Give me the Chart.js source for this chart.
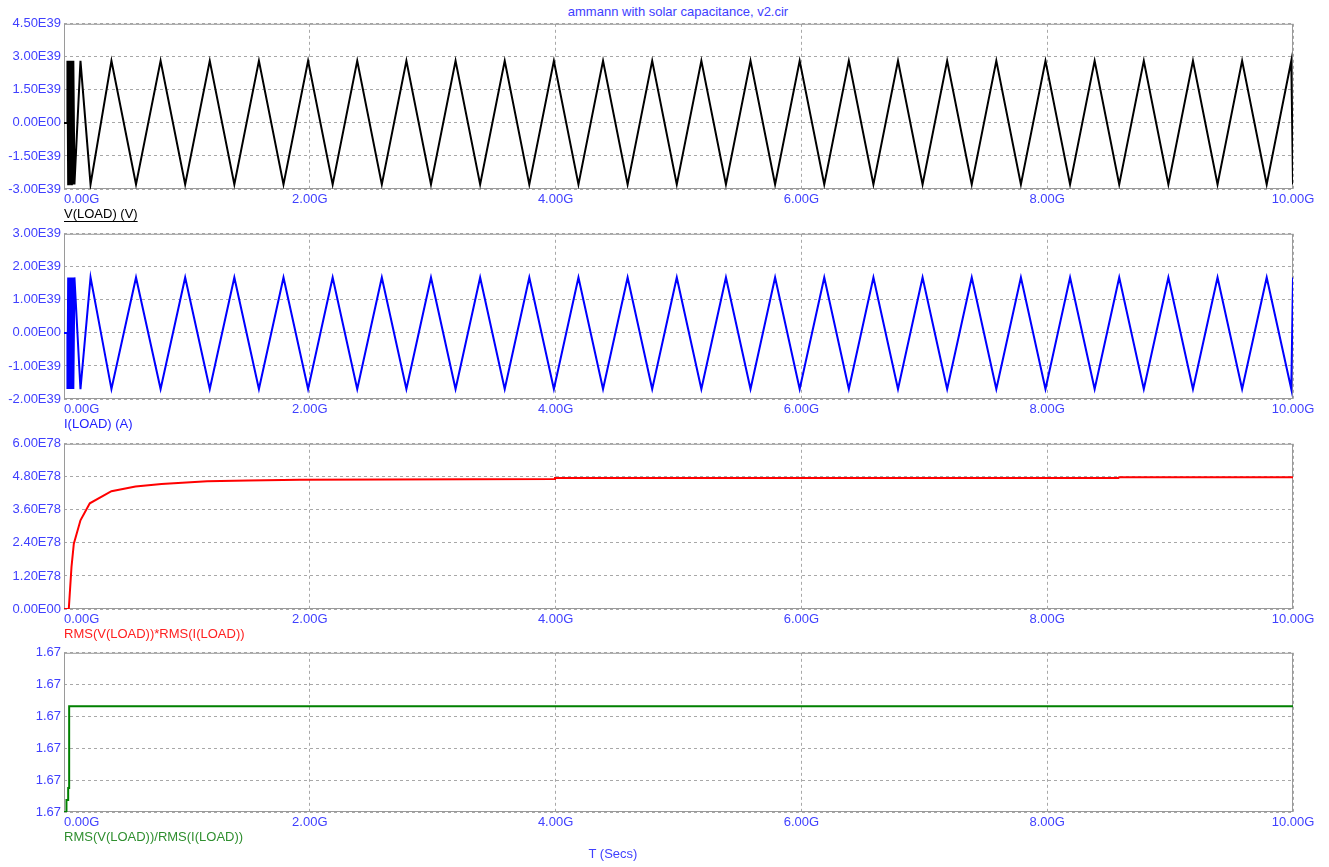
<!DOCTYPE html>
<html>
<head>
<meta charset="utf-8">
<script src="https://cdn.jsdelivr.net/npm/chart.js@4.4.1/dist/chart.umd.min.js"></script>
<style>
  html, body { margin: 0; padding: 0; background: #fff; }
  body { width: 1329px; height: 867px; position: relative; overflow: hidden;
         font-family: Arial, "Liberation Sans", sans-serif; }
  .panel { position: absolute; left: 0; }
  .txt { position: absolute; font-size: 13px; line-height: 16px; color: #4040ff;
         white-space: nowrap; text-align: center; }
</style>
</head>
<body>
<div class="txt" style="left:63px; width:1230px; top:4px;">ammann with solar capacitance, v2.cir</div>
<canvas class="panel" id="pV" width="1329" height="211" style="top:13px"></canvas>
<canvas class="panel" id="pI" width="1329" height="211" style="top:223px"></canvas>
<canvas class="panel" id="pP" width="1329" height="211" style="top:433px"></canvas>
<canvas class="panel" id="pR" width="1329" height="205" style="top:642px"></canvas>
<div class="txt" style="left:513px; width:200px; top:846px;">T (Secs)</div>

<script>
// x ticks in G (Secs)
const timeTicks = [0, 2, 4, 6, 8, 10];

// vertices of the V(LOAD) and I(LOAD) traces, time in G
const vertexTimes = [
  0, 0.028, 0.028, 0.034, 0.040, 0.046, 0.052, 0.058, 0.064, 0.070, 0.076, 0.085, 0.134, 0.216,
  0.386, 0.586, 0.786, 0.986, 1.186, 1.386, 1.586, 1.786, 1.986, 2.186, 2.386, 2.586, 2.786, 2.986,
  3.186, 3.386, 3.586, 3.786, 3.986, 4.186, 4.386, 4.586, 4.786, 4.986, 5.186, 5.386, 5.586, 5.786,
  5.986, 6.186, 6.386, 6.586, 6.786, 6.986, 7.186, 7.386, 7.586, 7.786, 7.986, 8.186, 8.386, 8.586,
  8.786, 8.986, 9.186, 9.386, 9.586, 9.786, 9.986, 10.0
];

// V(LOAD), units of E39
const voltage = [
  0, 0, 2.82, -2.79, 2.82, -2.79, 2.82, -2.79, 2.82, -2.79, 2.82, -2.79, 2.82, -2.79,
  2.82, -2.79, 2.82, -2.79, 2.82, -2.79, 2.82, -2.79, 2.82, -2.79, 2.82, -2.79, 2.82, -2.79,
  2.82, -2.79, 2.82, -2.79, 2.82, -2.79, 2.82, -2.79, 2.82, -2.79, 2.82, -2.79, 2.82, -2.79,
  2.82, -2.79, 2.82, -2.79, 2.82, -2.79, 2.82, -2.79, 2.82, -2.79, 2.82, -2.79, 2.82, -2.79,
  2.82, -2.79, 2.82, -2.79, 2.82, -2.79, 2.82, -2.79
];
const voltageTicks = [-3, -1.5, 0, 1.5, 3, 4.5];

// I(LOAD), units of E39
const current = [
  0, 0, -1.70, 1.68, -1.70, 1.68, -1.70, 1.68, -1.70, 1.68, -1.70, 1.68, -1.70, 1.68,
  -1.70, 1.68, -1.70, 1.68, -1.70, 1.68, -1.70, 1.68, -1.70, 1.68, -1.70, 1.68, -1.70, 1.68,
  -1.70, 1.68, -1.70, 1.68, -1.70, 1.68, -1.70, 1.68, -1.70, 1.68, -1.70, 1.68, -1.70, 1.68,
  -1.70, 1.68, -1.70, 1.68, -1.70, 1.68, -1.70, 1.68, -1.70, 1.68, -1.70, 1.68, -1.70, 1.68,
  -1.70, 1.68, -1.70, 1.68, -1.70, 1.68, -1.70, 1.68
];
const currentTicks = [-2, -1, 0, 1, 2, 3];

// RMS(V)*RMS(I), units of E78
const powerTimes = [0, 0.039, 0.061, 0.080, 0.134, 0.21, 0.386, 0.582, 0.793, 1.165, 1.5, 1.92, 3.99, 3.995, 8.58, 8.585, 10.0];
const power      = [0, 0, 1.53, 2.37, 3.22, 3.84, 4.28, 4.45, 4.54, 4.64, 4.67, 4.69, 4.724, 4.760, 4.760, 4.782, 4.782];
const powerTicks = [0, 1.2, 2.4, 3.6, 4.8, 6.0];

// RMS(V)/RMS(I)
const ratioTimes = [0, 0.020, 0.020, 0.034, 0.034, 0.042, 0.042, 10.0];
const ratio      = [1.67, 1.67, 1.670038, 1.670038, 1.670075, 1.670075, 1.670332, 1.670332];
const ratioTicks = [1.6700, 1.6701, 1.6702, 1.6703, 1.6704, 1.6705];

const FONT_FAMILY = 'Arial, "Liberation Sans", sans-serif';
const AXIS_BLUE = '#4040ff';
Chart.defaults.font.family = FONT_FAMILY;
Chart.defaults.font.size = 13;

const scopeFrame = {
  id: 'scopeFrame',
  beforeDatasetsDraw(chart) {
    const { ctx, chartArea: a } = chart;
    ctx.save();
    ctx.strokeStyle = '#9a9a9a';
    ctx.lineWidth = 1;
    ctx.strokeRect(a.left + 0.5, a.top + 0.5, a.right - a.left - 1, a.bottom - a.top - 1);
    ctx.restore();
  },
  afterDraw(chart, args, opts) {
    const { ctx, chartArea: a } = chart;
    const x = chart.scales.x;
    ctx.save();
    ctx.font = '13px ' + FONT_FAMILY;
    ctx.textBaseline = 'middle';
    ctx.fillStyle = AXIS_BLUE;
    x.ticks.forEach((t, i) => {
      ctx.textAlign = i === 0 ? 'left' : 'center';
      const px = i === 0 ? a.left : x.getPixelForValue(t.value);
      ctx.fillText(t.value.toFixed(2) + 'G', px, a.bottom + 10);
    });
    ctx.textAlign = 'left';
    ctx.fillStyle = opts.color;
    ctx.fillText(opts.label, a.left, a.bottom + 25);
    if (opts.underline) {
      const w = ctx.measureText(opts.label).width;
      ctx.strokeStyle = opts.color;
      ctx.lineWidth = 1;
      ctx.beginPath();
      ctx.moveTo(a.left, a.bottom + 32.5);
      ctx.lineTo(a.left + w, a.bottom + 32.5);
      ctx.stroke();
    }
    ctx.restore();
  }
};

function makePanel(id, times, values, color, yTicks, fmt, label, labelColor, underline) {
  const points = times.map((t, i) => ({ x: t, y: values[i] }));
  new Chart(document.getElementById(id), {
    type: 'line',
    data: {
      datasets: [{
        data: points,
        borderColor: color,
        borderWidth: 2,
        pointRadius: 0,
        tension: 0,
        fill: false
      }]
    },
    options: {
      responsive: false,
      animation: false,
      layout: { padding: { top: 10, right: 36, left: 0, bottom: 0 } },
      plugins: {
        legend: { display: false },
        tooltip: { enabled: false },
        scopeFrame: { label: label, color: labelColor, underline: underline }
      },
      scales: {
        x: {
          type: 'linear',
          min: 0,
          max: 10,
          afterBuildTicks: s => { s.ticks = timeTicks.map(v => ({ value: v })); },
          afterFit: s => { s.height = 35; },
          ticks: { display: false },
          grid: { color: '#a8a8a8', lineWidth: 1, drawTicks: false },
          border: { display: false, dash: [3, 3] }
        },
        y: {
          min: yTicks[0],
          max: yTicks[yTicks.length - 1],
          afterBuildTicks: s => { s.ticks = yTicks.map(v => ({ value: v })); },
          afterFit: s => { s.width = 64; },
          ticks: { color: AXIS_BLUE, padding: 3, callback: fmt },
          grid: { color: '#a8a8a8', lineWidth: 1, drawTicks: false },
          border: { display: false, dash: [3, 3] }
        }
      }
    },
    plugins: [scopeFrame]
  });
}

const expFmt = exp => v => (v === 0 ? '0.00E00' : v.toFixed(2) + exp);

makePanel('pV', vertexTimes, voltage, '#000000', voltageTicks, expFmt('E39'), 'V(LOAD) (V)', '#000000', true);
makePanel('pI', vertexTimes, current, '#0000ff', currentTicks, expFmt('E39'), 'I(LOAD) (A)', '#2020ff', false);
makePanel('pP', powerTimes, power, '#ff0000', powerTicks, expFmt('E78'), 'RMS(V(LOAD))*RMS(I(LOAD))', '#ff2020', false);
makePanel('pR', ratioTimes, ratio, '#008000', ratioTicks, v => v.toFixed(2), 'RMS(V(LOAD))/RMS(I(LOAD))', '#2f8f2f', false);
</script>
</body>
</html>
